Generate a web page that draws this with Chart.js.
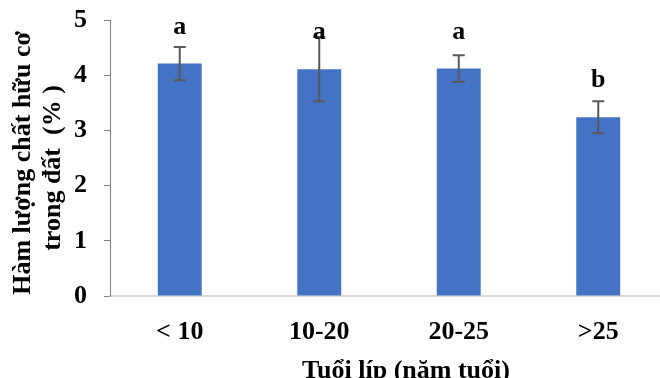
<!DOCTYPE html>
<html><head><meta charset="utf-8">
<script src="https://cdn.jsdelivr.net/npm/chart.js@4.4.1/dist/chart.umd.min.js"></script>
<style>html,body{margin:0;padding:0;overflow:hidden;background:#fff;width:660px;height:378px}canvas{display:block}</style>
</head><body>
<canvas id="c" width="680" height="400"></canvas>
<script>
const categories = ['< 10', '10-20', '20-25', '>25'];
const organicMatter = [4.21, 4.11, 4.12, 3.24];
const errorMargins = [0.30, 0.58, 0.24, 0.29];
const significanceLetters = ['a', 'a', 'a', 'b'];
const yTickValues = [0, 1, 2, 3, 4, 5];
const xTitle = 'Tuổi líp (năm tuổi)';
const yTitleLines = ['Hàm lượng chất hữu cơ', 'trong đất  (% )'];

const FONT = '"Liberation Serif", "Times New Roman", serif';

const overlay = {
  id: 'overlay',
  afterDatasetsDraw(chart) {
    const ctx = chart.ctx, ys = chart.scales.y, meta = chart.getDatasetMeta(0);
    ctx.save();
    ctx.strokeStyle = '#595959';
    ctx.lineWidth = 2;
    meta.data.forEach((bar, i) => {
      const v = organicMatter[i], e = errorMargins[i];
      const yt = ys.getPixelForValue(v + e), yb = ys.getPixelForValue(v - e);
      ctx.beginPath();
      ctx.moveTo(bar.x, yt); ctx.lineTo(bar.x, yb);
      ctx.moveTo(bar.x - 6, yt); ctx.lineTo(bar.x + 6, yt);
      ctx.moveTo(bar.x - 6, yb); ctx.lineTo(bar.x + 6, yb);
      ctx.stroke();
    });
    ctx.fillStyle = '#000';
    ctx.font = 'bold 26px ' + FONT;
    ctx.textAlign = 'center';
    ctx.textBaseline = 'alphabetic';
    meta.data.forEach((bar, i) => {
      ctx.fillText(significanceLetters[i], bar.x, ys.getPixelForValue(organicMatter[i]) - 30);
    });
    ctx.restore();
  },
  afterDraw(chart) {
    const ctx = chart.ctx;
    ctx.save();
    ctx.fillStyle = '#000';
    ctx.font = 'bold 26px ' + FONT;
    ctx.textAlign = 'center';
    ctx.textBaseline = 'alphabetic';
    ctx.fillText(xTitle, 406, 378);
    ctx.save(); ctx.translate(29.5, 163); ctx.rotate(-Math.PI / 2); ctx.fillText(yTitleLines[0], 0, 0); ctx.restore();
    ctx.save(); ctx.translate(60, 168); ctx.rotate(-Math.PI / 2); ctx.fillText(yTitleLines[1], 0, 0); ctx.restore();
    ctx.restore();
  }
};

new Chart(document.getElementById('c'), {
  type: 'bar',
  data: {
    labels: categories,
    datasets: [{
      data: organicMatter,
      backgroundColor: '#4472C4',
      borderWidth: 0,
      barPercentage: 0.315,
      categoryPercentage: 1
    }]
  },
  options: {
    responsive: false,
    animation: false,
    devicePixelRatio: 1,
    layout: { padding: { top: 20, right: 12, bottom: 0, left: 0 } },
    plugins: { legend: { display: false }, tooltip: { enabled: false } },
    scales: {
      x: {
        offset: true,
        grid: { display: false, drawTicks: false },
        border: { display: true, color: '#d9d9d9', width: 2 },
        ticks: { padding: 21, color: '#000', font: { family: FONT, size: 26, weight: 'bold' } },
        afterFit(s) { s.height = 104; s.paddingLeft = 0; s.paddingRight = 0; }
      },
      y: {
        min: 0, max: 5,
        afterBuildTicks(s) { s.ticks = yTickValues.map(v => ({ value: v })); },
        grid: { drawOnChartArea: false, drawTicks: true, tickLength: 6, color: '#7f7f7f', lineWidth: 1 },
        border: { display: true, color: '#7f7f7f', width: 1 },
        ticks: { padding: 17, color: '#000', font: { family: FONT, size: 26, weight: 'bold' } },
        afterFit(s) { s.width = 110; s.paddingTop = 0; s.paddingBottom = 0; }
      }
    }
  },
  plugins: [overlay]
});
</script>
</body></html>
